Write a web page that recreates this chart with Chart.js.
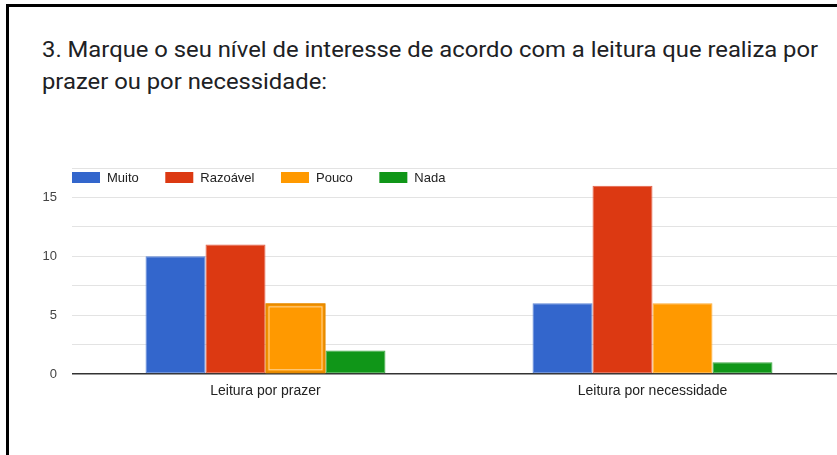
<!DOCTYPE html>
<html lang="pt">
<head>
<meta charset="utf-8">
<title>Nível de interesse pela leitura</title>
<script src="https://cdn.jsdelivr.net/npm/chart.js@4/dist/chart.umd.min.js"></script>
<style>
  html, body { margin: 0; padding: 0; background: #fff; overflow: hidden; }
  body { width: 837px; height: 455px; position: relative; }
  .frame {
    position: absolute; left: 6px; top: 4px; width: 900px; height: 500px;
    border-left: 3px solid #000; border-top: 3px solid #000; box-sizing: border-box;
  }
  .question {
    position: absolute; left: 42px; top: 34px; width: 760px;
    font-family: Roboto, "Noto Sans", Arial, sans-serif; font-size: 22px; line-height: 32px;
    color: #202124; white-space: nowrap;
    transform: scaleX(1.082); transform-origin: 0 0;
  }
  .plot { position: absolute; left: 0; top: 0; width: 846px; height: 455px; }
</style>
</head>
<body>
<div class="frame"></div>
<div class="question">3. Marque o seu nível de interesse de acordo com a leitura que realiza por<br>prazer ou por necessidade:</div>
<div class="plot"><canvas id="chart" width="846" height="455"></canvas></div>
<script>
// Respostas por categoria de leitura
const categories = ['Leitura por prazer', 'Leitura por necessidade'];
const seriesNames = ['Muito', 'Razoável', 'Pouco', 'Nada'];
const muito    = [10, 6];
const razoavel = [11, 16];
const pouco    = [6, 6];
const nada     = [2, 1];
const yTicks   = [0, 5, 10, 15];

const fills   = ['#3366cc', '#dc3912', '#ff9900', '#109618'];
const strokes = ['#5c85d6', '#e3614a', '#ffad33', '#40ab46'];

// bar shown in its selected state
const selected = { datasetIndex: 2, index: 0 };

const seriesValues = [muito, razoavel, pouco, nada];
const datasets = seriesNames.map((name, i) => ({
  label: name,
  data: seriesValues[i],
  backgroundColor: fills[i],
  borderColor: strokes[i],
  borderWidth: 1,
  borderSkipped: false,
  categoryPercentage: 0.62,
  barPercentage: 1.0
}));

const FONT = '"Liberation Sans", Arial, sans-serif';

const selectionRing = {
  id: 'selectionRing',
  afterDatasetsDraw(chart) {
    const meta = chart.getDatasetMeta(selected.datasetIndex);
    const bar = meta.data[selected.index];
    if (!bar) return;
    const { x, y, base, width } = bar.getProps(['x', 'y', 'base', 'width'], true);
    const ctx = chart.ctx;
    ctx.save();
    ctx.strokeStyle = '#e68a00';
    ctx.lineWidth = 2;
    ctx.strokeRect(x - width / 2 + 1, y + 1, width - 2, base - y - 2);
    ctx.strokeStyle = 'rgba(255,255,255,0.6)';
    ctx.lineWidth = 1;
    ctx.strokeRect(x - width / 2 + 3.5, y + 3.5, width - 7, base - y - 7);
    ctx.restore();
  }
};

const topLegend = {
  id: 'topLegend',
  afterDraw(chart) {
    const ctx = chart.ctx;
    const area = chart.chartArea;
    let x = area.left;
    const yMid = 177.5;
    ctx.save();
    ctx.font = '13px ' + FONT;
    ctx.textBaseline = 'middle';
    chart.data.datasets.forEach((ds) => {
      ctx.fillStyle = ds.backgroundColor;
      ctx.fillRect(x, yMid - 5.5, 28, 11);
      ctx.fillStyle = '#222';
      ctx.fillText(ds.label, x + 35, yMid + 0.5);
      x += 35 + ctx.measureText(ds.label).width + 26.5;
    });
    ctx.restore();
  }
};

new Chart(document.getElementById('chart'), {
  type: 'bar',
  data: { labels: categories, datasets },
  options: {
    responsive: false,
    animation: false,
    events: [],
    layout: { padding: { top: 168, right: 0, bottom: 0, left: 0 } },
    plugins: {
      legend: { display: false },
      tooltip: { enabled: false },
      title: { display: false }
    },
    scales: {
      x: {
        grid: { display: false, drawTicks: false },
        border: { display: false },
        ticks: { color: '#222', font: { family: FONT, size: 14 }, padding: 9 },
        afterFit(scale) { scale.height = 81; }
      },
      y: {
        min: 0,
        max: 17.5,
        border: { display: false },
        grid: {
          drawTicks: false,
          color: (c) => c.tick && c.tick.value === 0 ? '#333' : '#e3e3e3',
          lineWidth: (c) => c.tick && c.tick.value === 0 ? 1.5 : 1
        },
        ticks: {
          stepSize: 2.5,
          padding: 15,
          color: '#444',
          font: { family: FONT, size: 13 },
          callback: (v) => yTicks.includes(v) ? String(v) : ''
        },
        afterFit(scale) { scale.width = 72; }
      }
    }
  },
  plugins: [selectionRing, topLegend]
});
</script>
</body>
</html>
